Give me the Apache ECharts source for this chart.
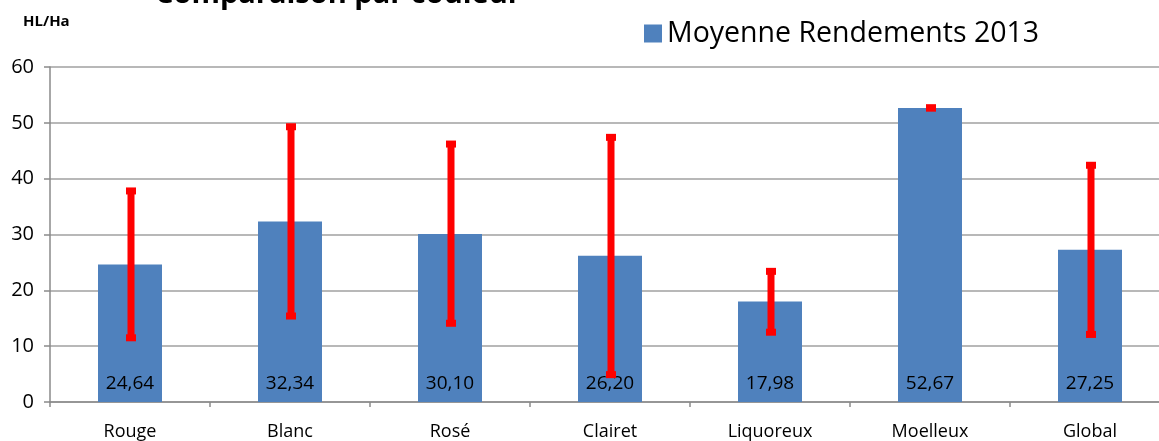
<!DOCTYPE html>
<html><head><meta charset="utf-8">
<script src="https://cdn.jsdelivr.net/npm/echarts@6/dist/echarts.min.js"></script>
<style>html,body{margin:0;padding:0;background:#fff;overflow:hidden}#c{width:1170px;height:441px}</style>
</head><body><div id="c"></div>
<script>
var categories = ['Rouge', 'Blanc', 'Rosé', 'Clairet', 'Liquoreux', 'Moelleux', 'Global'];
var moyenne = [24.64, 32.34, 30.10, 26.20, 17.98, 52.67, 27.25];
var minValues = [11.5, 15.4, 14.1, 4.9, 12.5, 52.67, 12.1];
var maxValues = [37.8, 49.3, 46.2, 47.4, 23.4, 52.67, 42.4];
var yTicks = [0, 10, 20, 30, 40, 50, 60];

var FONT = 'Open Sans';
var errData = categories.map(function (c, i) { return [i, minValues[i], maxValues[i]]; });

var chart = echarts.init(document.getElementById('c'));
chart.setOption({
  animation: false,
  backgroundColor: '#fff',
  textStyle: { fontFamily: FONT },
  graphic: [
    { type: 'text', left: 155, top: -20, z: 10, style: { text: 'Comparaison par couleur', fontSize: 29, fontWeight: 'bold', fontFamily: FONT, fill: '#000' } },
    { type: 'text', left: 23, top: 14, z: 10, style: { text: 'HL/Ha', fontSize: 15, fontWeight: 'bold', fontFamily: FONT, fill: '#000' } }
  ],
  legend: {
    left: 639, top: 14,
    itemWidth: 18, itemHeight: 18, itemGap: 10,
    icon: 'rect',
    textStyle: { fontSize: 28.5, fontFamily: FONT, color: '#000', padding: [0, 0, 0, 0] },
    data: [{ name: 'Moyenne Rendements 2013', itemStyle: { color: '#4F81BD' } }]
  },
  grid: { left: 50, top: 67, right: 0, bottom: 38, containLabel: false },
  xAxis: {
    type: 'category', data: categories, boundaryGap: true,
    axisLine: { lineStyle: { color: '#8a8a8a', width: 1.5 } },
    axisTick: { show: true, length: 5, lineStyle: { color: '#8a8a8a', width: 1.5 } },
    axisLabel: { fontSize: 18, color: '#000', margin: 21, fontFamily: FONT }
  },
  yAxis: {
    type: 'value', min: yTicks[0], max: yTicks[yTicks.length - 1], interval: 10,
    axisLine: { show: true, lineStyle: { color: '#8a8a8a', width: 1.5 } },
    axisTick: { show: true, length: 6, lineStyle: { color: '#8a8a8a', width: 1.5 } },
    axisLabel: { fontSize: 20, color: '#000', margin: 16, fontFamily: FONT },
    splitLine: { lineStyle: { color: '#a0a0a0', width: 1.5 } }
  },
  series: [
    {
      name: 'Moyenne Rendements 2013', type: 'bar', data: moyenne, barWidth: 64, z: 2,
      itemStyle: { color: '#4F81BD' },
      label: {
        show: true, position: 'insideBottom', distance: 9,
        fontSize: 19, color: '#000', fontFamily: FONT,
        formatter: function (p) { return p.value.toFixed(2).replace('.', ','); }
      }
    },
    {
      name: 'minmax', type: 'custom', data: errData, z: 5,
      encode: { x: 0, y: [1, 2] },
      renderItem: function (params, api) {
        var i = api.value(0);
        var lo = api.coord([i, api.value(1)]);
        var hi = api.coord([i, api.value(2)]);
        var x = lo[0] + 1;
        var lw = 7, cw = 10, ch = 7;
        return {
          type: 'group',
          children: [
            { type: 'rect', shape: { x: x - lw / 2, y: hi[1], width: lw, height: Math.max(0, lo[1] - hi[1]) }, style: { fill: '#FF0000' } },
            { type: 'rect', shape: { x: x - cw / 2, y: hi[1] - ch / 2, width: cw, height: ch }, style: { fill: '#FF0000' } },
            { type: 'rect', shape: { x: x - cw / 2, y: lo[1] - ch / 2, width: cw, height: ch }, style: { fill: '#FF0000' } }
          ]
        };
      }
    }
  ]
});
</script></body></html>
